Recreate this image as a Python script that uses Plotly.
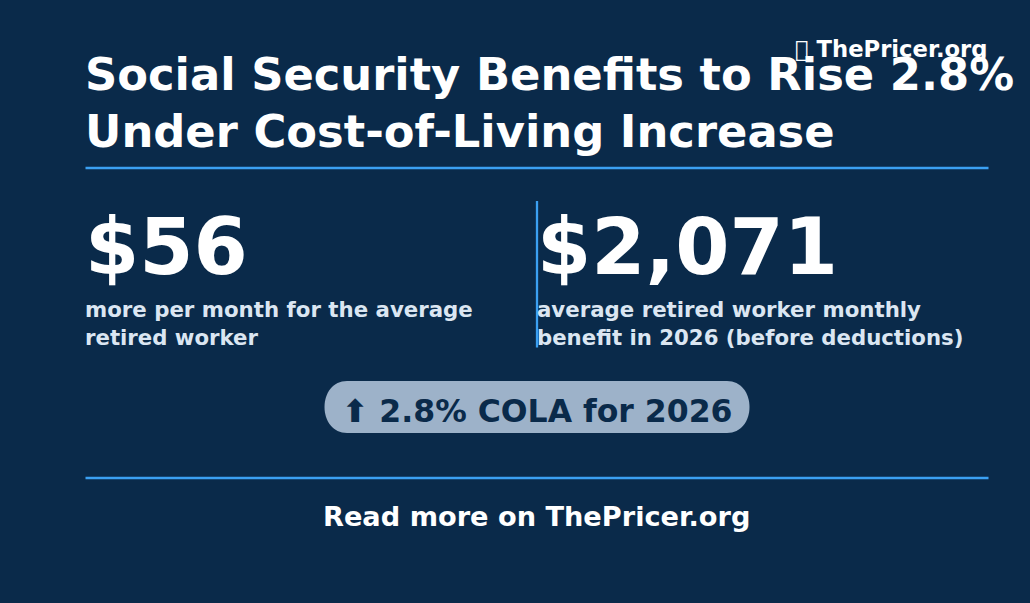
import plotly.graph_objects as go

BG = "#0a2a4a"
ACCENT = "#3ba0f2"
FONT = "DejaVu Sans"

title_lines = ["Social Security Benefits to Rise 2.8%", "Under Cost-of-Living Increase"]
brand = "\uE000 ThePricer.org"
stat_values = ["$56", "$2,071"]
stat_captions = [
    ["more per month for the average", "retired worker"],
    ["average retired worker monthly", "benefit in 2026 (before deductions)"],
]
badge_text = "\u2B06 2.8% COLA for 2026"
footer_text = "Read more on ThePricer.org"

fig = go.Figure()


def text(x, y, s, size, color="#ffffff", anchor="left"):
    fig.add_annotation(
        x=x, y=y, xref="x", yref="y", text=f"<b>{s}</b>", showarrow=False,
        xanchor=anchor, yanchor="middle", align=anchor,
        font=dict(family=FONT, size=size, color=color),
        borderpad=0, borderwidth=0,
    )


def line(x0, y0, x1, y1, width=2.3):
    fig.add_shape(type="line", x0=x0, y0=y0, x1=x1, y1=y1, xref="x", yref="y",
                  line=dict(color=ACCENT, width=width))


text(84.5, 74.5, title_lines[0], 44.8)
text(84.5, 131.5, title_lines[1], 44.8)
text(988, 49, brand, 22.7, anchor="right")
line(85.5, 168, 988.5, 168)
line(537, 201, 537, 347.5)
line(85.5, 478, 988.5, 478)

text(85, 247, stat_values[0], 78)
text(536.5, 247, stat_values[1], 78)
for x, cap in zip((85, 536.5), stat_captions):
    text(x, 309.5, cap[0], 21.3, "#dbe6f2")
    text(x, 337.5, cap[1], 21.25, "#dbe6f2")

fig.add_shape(
    type="path", xref="x", yref="y", line=dict(width=0), fillcolor="#9db2c9",
    path="M 347 381 L 727 381 C 741 381 749.5 393 749.5 407 C 749.5 421 741 433 727 433 "
         "L 347 433 C 333 433 324.5 421 324.5 407 C 324.5 393 333 381 347 381 Z",
)
text(537, 410.5, badge_text, 31.5, BG, anchor="center")
text(536.5, 516, footer_text, 27.2, anchor="center")

fig.update_layout(
    width=1030, height=603, margin=dict(l=0, r=0, t=0, b=0),
    paper_bgcolor=BG, plot_bgcolor=BG, showlegend=False,
    xaxis=dict(range=[0, 1030], visible=False, fixedrange=True),
    yaxis=dict(range=[603, 0], visible=False, fixedrange=True),
)
fig.write_html(
    "out.html",
    config=dict(displayModeBar=False),
    post_script=f"document.body.style.margin='0';document.body.style.background='{BG}';"
                "document.documentElement.style.overflow='hidden';",
)
